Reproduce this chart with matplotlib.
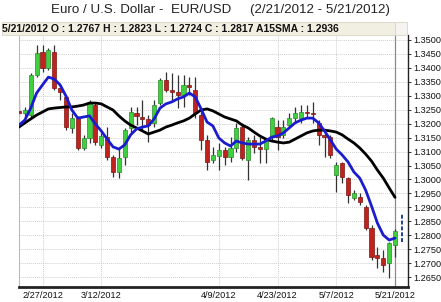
import matplotlib
matplotlib.use("Agg")
import matplotlib.pyplot as plt
import pandas as pd

plt.rcParams['font.family'] = ['Liberation Sans', 'DejaVu Sans']

# trading days 2/21/2012 .. 5/21/2012
dates = pd.bdate_range("2012-02-21", "2012-05-21")
date_labels = [f"{d.month}/{d.day}/{d.year}" for d in dates]
tick_labels = ["2/27/2012", "3/12/2012", "4/9/2012", "4/23/2012", "5/7/2012", "5/21/2012"]

opens = [1.3245, 1.3238, 1.3231, 1.3375, 1.3457, 1.3400, 1.3457, 1.3328, 1.3296, 1.3185,
         1.3220, 1.3113, 1.3149, 1.3267, 1.3124, 1.3152, 1.3081, 1.3027, 1.3081, 1.3185,
         1.3238, 1.3224, 1.3217, 1.3202, 1.3274, 1.3357, 1.3321, 1.3314, 1.3303, 1.3339,
         1.3321, 1.3231, 1.3142, 1.3070, 1.3085, 1.3106, 1.3081, 1.3113, 1.3188, 1.3070,
         1.3142, 1.3117, 1.3110, 1.3152, 1.3188, 1.3160, 1.3195, 1.3220, 1.3220, 1.3242,
         1.3238, 1.3203, 1.3160, 1.3152, 1.3016, 1.3059, 1.3005, 1.2934, 1.2937, 1.2901,
         1.2826, 1.2729, 1.2719, 1.2701, 1.2767]
highs = [1.3292, 1.3260, 1.3382, 1.3482, 1.3482, 1.3471, 1.3482, 1.3332, 1.3303, 1.3238,
         1.3228, 1.3160, 1.3285, 1.3274, 1.3167, 1.3188, 1.3088, 1.3113, 1.3185, 1.3260,
         1.3260, 1.3285, 1.3231, 1.3285, 1.3364, 1.3385, 1.3382, 1.3375, 1.3375, 1.3367,
         1.3367, 1.3242, 1.3160, 1.3117, 1.3131, 1.3117, 1.3152, 1.3203, 1.3203, 1.3152,
         1.3160, 1.3152, 1.3145, 1.3224, 1.3213, 1.3213, 1.3238, 1.3260, 1.3267, 1.3267,
         1.3278, 1.3213, 1.3170, 1.3160, 1.3063, 1.3063, 1.3009, 1.2962, 1.2952, 1.2909,
         1.2837, 1.2758, 1.2747, 1.2776, 1.2823]
lows = [1.3228, 1.3224, 1.3224, 1.3367, 1.3385, 1.3392, 1.3321, 1.3285, 1.3177, 1.3167,
        1.3106, 1.3106, 1.3131, 1.3124, 1.3113, 1.3070, 1.3009, 1.3005, 1.3052, 1.3167,
        1.3195, 1.3177, 1.3134, 1.3188, 1.3267, 1.3314, 1.3278, 1.3256, 1.3260, 1.3303,
        1.3220, 1.3106, 1.3034, 1.3059, 1.3034, 1.3052, 1.3063, 1.3099, 1.3070, 1.2998,
        1.3095, 1.3059, 1.3059, 1.3142, 1.3106, 1.3149, 1.3188, 1.3206, 1.3203, 1.3224,
        1.3203, 1.3124, 1.3081, 1.3077, 1.2955, 1.2987, 1.2916, 1.2927, 1.2909, 1.2819,
        1.2712, 1.2683, 1.2669, 1.2647, 1.2724]
closes = [1.3238, 1.3249, 1.3375, 1.3453, 1.3400, 1.3464, 1.3328, 1.3314, 1.3188, 1.3220,
          1.3113, 1.3149, 1.3274, 1.3134, 1.3156, 1.3081, 1.3027, 1.3077, 1.3177, 1.3242,
          1.3228, 1.3217, 1.3195, 1.3267, 1.3357, 1.3321, 1.3314, 1.3303, 1.3339, 1.3332,
          1.3238, 1.3142, 1.3063, 1.3088, 1.3106, 1.3081, 1.3113, 1.3185, 1.3077, 1.3142,
          1.3117, 1.3110, 1.3149, 1.3220, 1.3152, 1.3188, 1.3220, 1.3238, 1.3242, 1.3238,
          1.3235, 1.3160, 1.3152, 1.3088, 1.3052, 1.3009, 1.2944, 1.2952, 1.2919, 1.2826,
          1.2722, 1.2719, 1.2694, 1.2772, 1.2817]

sma_fast = [1.3195, 1.3213, 1.3256, 1.3310, 1.3339, 1.3367, 1.3360, 1.3339, 1.3299, 1.3249,
            1.3220, 1.3224, 1.3228, 1.3199, 1.3174, 1.3145, 1.3117, 1.3109, 1.3124, 1.3160,
            1.3181, 1.3188, 1.3192, 1.3217, 1.3256, 1.3271, 1.3278, 1.3289, 1.3296, 1.3310,
            1.3296, 1.3253, 1.3206, 1.3192, 1.3149, 1.3131, 1.3120, 1.3138, 1.3131, 1.3127,
            1.3127, 1.3127, 1.3138, 1.3152, 1.3156, 1.3167, 1.3185, 1.3203, 1.3213, 1.3220,
            1.3220, 1.3203, 1.3174, 1.3142, 1.3109, 1.3088, 1.3063, 1.3027, 1.3005, 1.2962,
            1.2905, 1.2844, 1.2801, 1.2783, 1.2790]
sma_slow = [1.3188, 1.3203, 1.3217, 1.3231, 1.3242, 1.3253, 1.3256, 1.3258, 1.3260, 1.3260,
            1.3263, 1.3267, 1.3274, 1.3274, 1.3271, 1.3260, 1.3249, 1.3228, 1.3210, 1.3195,
            1.3185, 1.3174, 1.3163, 1.3170, 1.3177, 1.3188, 1.3195, 1.3203, 1.3210, 1.3220,
            1.3235, 1.3249, 1.3253, 1.3246, 1.3235, 1.3224, 1.3217, 1.3210, 1.3195, 1.3185,
            1.3170, 1.3156, 1.3145, 1.3138, 1.3134, 1.3131, 1.3134, 1.3145, 1.3156, 1.3167,
            1.3174, 1.3177, 1.3177, 1.3174, 1.3170, 1.3160, 1.3145, 1.3131, 1.3113, 1.3091,
            1.3066, 1.3034, 1.3005, 1.2970, 1.2936]

y_ticks = [1.2650, 1.2700, 1.2750, 1.2800, 1.2850, 1.2900, 1.2950, 1.3000, 1.3050, 1.3100,
           1.3150, 1.3200, 1.3250, 1.3300, 1.3350, 1.3400, 1.3450, 1.3500]
range_bar = [1.2776, 1.2880]


W, H = 441, 302
fig = plt.figure(figsize=(W / 100, H / 100), dpi=100)
fig.patch.set_facecolor("white")

# header strip
fig.patches.append(plt.Rectangle((2 / W, 1 - 35 / H), 393 / W, 13 / H, transform=fig.transFigure,
                                 facecolor="#f1eee2", edgecolor="#d8d4c4", lw=0.6))
fig.patches.append(plt.Rectangle((395 / W, 1 - 35 / H), 12 / W, 13 / H, transform=fig.transFigure,
                                 facecolor="#f5f4f0", edgecolor="#d8d4c4", lw=0.6))
fig.text(221 / W, 1 - 10 / H, "Euro / U.S. Dollar -  EUR/USD     (2/21/2012 - 5/21/2012)",
         ha="center", va="center", fontsize=9.6, color="#222222")
last = len(dates) - 1
fig.text(2 / W, 1 - 28.5 / H,
         f"{date_labels[last]} O : {opens[last]:.4f} H : {highs[last]:.4f} "
         f"L : {lows[last]:.4f} C : {closes[last]:.4f} A15SMA : {sma_slow[last]:.4f}",
         ha="left", va="center", fontsize=7.5, fontweight="bold", color="#111111")

ax = fig.add_axes([19 / W, 1 - 287 / H, (408 - 19) / W, (287 - 35) / H])
ax.set_xlim(0, 66.21)
ax.set_ylim(1.26147, 1.35179)

x = list(range(len(dates)))
tick_pos = [date_labels.index(t) for t in tick_labels]

for v in y_ticks:
    ax.axhline(v, color="#cfcfcf", lw=0.7, ls=(0, (1, 1)), zorder=0)
for p in tick_pos[:-1]:
    ax.axvline(p, color="#cfcfcf", lw=0.7, ls=(0, (1, 1)), zorder=0)
ax.axvline(last, color="#8a8a8a", lw=0.9, zorder=1)

# candles
for i in x:
    o, h, l, c = opens[i], highs[i], lows[i], closes[i]
    up = c >= o
    ax.vlines(i, l, h, color="#333333", lw=0.9, zorder=2)
    ax.bar(i, abs(c - o), bottom=min(o, c), width=0.7,
           color="#3fcf3f" if up else "#c0221c",
           edgecolor="#2a8a2a" if up else "#7a1512", lw=0.5, zorder=3)

ax.plot(x, sma_slow, color="#000000", lw=2.0, zorder=4, solid_capstyle="round")
ax.plot(x, sma_fast, color="#1c1ccf", lw=2.0, zorder=5, solid_capstyle="round")
ax.vlines(last + 1.19, range_bar[0], range_bar[1], color="#1f3f8f", lw=1.4,
          linestyles=(0, (2, 1)), zorder=5)

ax.set_yticks(y_ticks)
ax.set_yticklabels([f"{v:.4f}" for v in y_ticks])
ax.yaxis.tick_right()
ax.tick_params(axis="y", length=2, width=0.6, pad=2, labelsize=6.6, colors="#111111")
ax.set_xticks(tick_pos)
ax.set_xticklabels(tick_labels)
ax.tick_params(axis="x", length=0, pad=3, labelsize=6.6, colors="#111111")

ax.spines["top"].set_visible(False)
ax.spines["left"].set_color("#bbbbbb")
ax.spines["left"].set_linewidth(0.8)
ax.spines["right"].set_color("#222222")
ax.spines["right"].set_linewidth(1.0)
ax.spines["bottom"].set_color("#222222")
ax.spines["bottom"].set_linewidth(2.0)

fig.savefig("out.png", dpi=100)
